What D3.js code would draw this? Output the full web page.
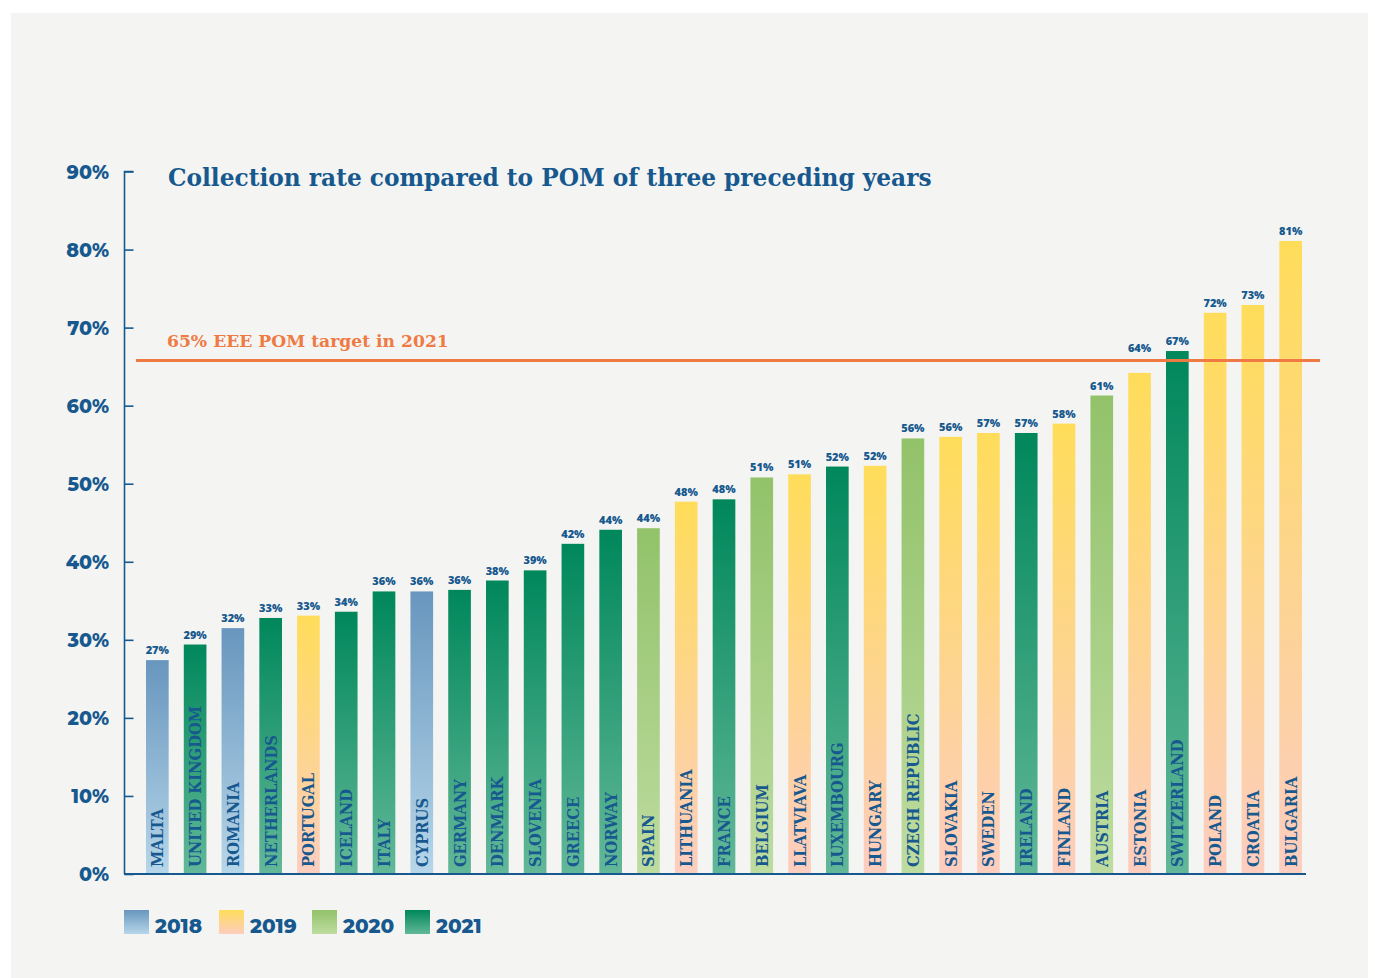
<!DOCTYPE html>
<html>
<head>
<meta charset="utf-8">
<script src="https://cdn.jsdelivr.net/npm/d3@7/dist/d3.min.js"></script>
<style>
  html, body { margin: 0; padding: 0; background: #ffffff; }
  svg { display: block; }
</style>
</head>
<body>
<svg id="chart" width="1375" height="978"></svg>
<script>
// ---- DATA ----
const countries = ["MALTA","UNITED KINGDOM","ROMANIA","NETHERLANDS","PORTUGAL","ICELAND","ITALY","CYPRUS","GERMANY","DENMARK","SLOVENIA","GREECE","NORWAY","SPAIN","LITHUANIA","FRANCE","BELGIUM","LLATVIAVA","LUXEMBOURG","HUNGARY","CZECH REPUBLIC","SLOVAKIA","SWEDEN","IRELAND","FINLAND","AUSTRIA","ESTONIA","SWITZERLAND","POLAND","CROATIA","BULGARIA"];
const rates = [27.4,29.4,31.5,32.8,33.1,33.6,36.2,36.2,36.4,37.6,38.9,42.3,44.1,44.3,47.7,48.0,50.8,51.2,52.2,52.3,55.8,56.0,56.5,56.5,57.7,61.3,64.2,67.0,71.9,72.9,81.1];
const years = [2018,2021,2018,2021,2019,2021,2021,2018,2021,2021,2021,2021,2021,2020,2019,2021,2020,2019,2021,2019,2020,2019,2019,2021,2019,2020,2019,2021,2019,2019,2019];
const legendYears = [2018,2019,2020,2021];
const yTicks = [0,10,20,30,40,50,60,70,80,90];
const targetValue = 65.8;
const targetLabel = "65% EEE POM target in 2021";
const title = "Collection rate compared to POM of three preceding years";

// ---- STYLE ----
const yearColors = {
  2018: ["#6896be", "#b6d6e9"],
  2019: ["#ffdd5a", "#fdcdbf"],
  2020: ["#92c26a", "#bedca0"],
  2021: ["#00875b", "#62b898"]
};
const blue = "#17598f";
const orange = "#ef7a44";

const svg = d3.select("#chart");
svg.append("rect").attr("x",0).attr("y",0).attr("width",1375).attr("height",978).attr("fill","#ffffff");
svg.append("rect").attr("x",11).attr("y",13).attr("width",1357).attr("height",965).attr("fill","#f4f5f2");

const defs = svg.append("defs");
legendYears.forEach(yr => {
  const g = defs.append("linearGradient").attr("id","g"+yr)
    .attr("x1",0).attr("y1",0).attr("x2",0).attr("y2",1);
  g.append("stop").attr("offset","0%").attr("stop-color",yearColors[yr][0]);
  g.append("stop").attr("offset","100%").attr("stop-color",yearColors[yr][1]);
});

const y = d3.scaleLinear().domain([0,90]).range([874,171.5]);
const x = d3.scaleBand().domain(countries).range([146,1302]).paddingInner(0.4).paddingOuter(0);

// Y axis
const yAxis = d3.axisRight(y).tickValues(yTicks).tickSize(9).tickFormat("");
const ya = svg.append("g").attr("transform","translate(124.5,0)").call(yAxis);
ya.select(".domain").attr("stroke",blue).attr("stroke-width",1.6).attr("d","M9,171.5H0V874");
ya.selectAll(".tick line").attr("stroke",blue).attr("stroke-width",1.6);

svg.append("g").selectAll("text").data(yTicks).join("text")
  .attr("x",109).attr("y",d=>y(d)+7)
  .attr("text-anchor","end")
  .attr("font-family","Montserrat, 'Open Sans', 'DejaVu Sans', sans-serif")
  .attr("font-weight",800).attr("font-size",19).attr("fill",blue)
  .text(d=>d+"%");

// X baseline
svg.append("line").attr("x1",124).attr("x2",1306).attr("y1",874).attr("y2",874)
  .attr("stroke",blue).attr("stroke-width",2);

// Bars
const bars = svg.append("g");
bars.selectAll("rect").data(countries).join("rect")
  .attr("x",d=>x(d)).attr("width",x.bandwidth())
  .attr("y",(d,i)=>y(rates[i]))
  .attr("height",(d,i)=>y(0)-y(rates[i])-1)
  .attr("fill",(d,i)=>"url(#g"+years[i]+")");

// Value labels (moved above the target line where they would touch it)
const ty = y(targetValue);
function labelY(v){
  const base = y(v) - 6;
  if (base > ty - 2 && base - 10 < ty + 2) return ty - 8;
  return base;
}
svg.append("g").selectAll("text").data(countries).join("text")
  .attr("x",d=>x(d)+x.bandwidth()/2)
  .attr("y",(d,i)=>labelY(rates[i]))
  .attr("text-anchor","middle")
  .attr("font-family","'Open Sans', 'DejaVu Sans', sans-serif")
  .attr("font-weight",800).attr("font-size",11).attr("fill",blue)
  .text((d,i)=>Math.round(rates[i])+"%");

// Country labels
svg.append("g").selectAll("text").data(countries).join("text")
  .attr("transform",d=>`translate(${x(d)+x.bandwidth()/2+6},867) rotate(-90)`)
  .attr("font-family","'DejaVu Serif', serif")
  .attr("font-weight","bold").attr("font-size",16.4).attr("fill",blue)
  .attr("font-stretch","condensed")
  .text(d=>d);

// Target line
svg.append("line").attr("x1",136).attr("x2",1320)
  .attr("y1",ty).attr("y2",ty)
  .attr("stroke",orange).attr("stroke-width",3);
const tl = svg.append("text").attr("x",167).attr("y",347)
  .attr("font-family","'DejaVu Serif', serif").attr("font-weight","bold")
  .attr("font-size",18).attr("fill",orange).text(targetLabel);
function fit(sel, w){ const l = sel.node().getComputedTextLength(); const fs=+sel.attr("font-size"); sel.attr("font-size", fs*w/l); }
fit(tl, 282);

// Title
const tt = svg.append("text").attr("x",168).attr("y",186)
  .attr("font-family","'DejaVu Serif', serif").attr("font-weight","bold")
  .attr("font-size",26).attr("fill",blue).text(title);
fit(tt, 764);

// Legend
const lg = svg.append("g");
const legX = [124,219,312,405];
legendYears.forEach((yr,i)=>{
  lg.append("rect").attr("x",legX[i]).attr("y",910).attr("width",25).attr("height",24)
    .attr("fill","url(#g"+yr+")");
  lg.append("text").attr("x",legX[i]+31).attr("y",933)
    .attr("font-family","Montserrat, 'Open Sans', 'DejaVu Sans', sans-serif")
    .attr("font-weight",800).attr("font-size",20).attr("fill",blue).text(yr);
});
</script>
</body>
</html>
